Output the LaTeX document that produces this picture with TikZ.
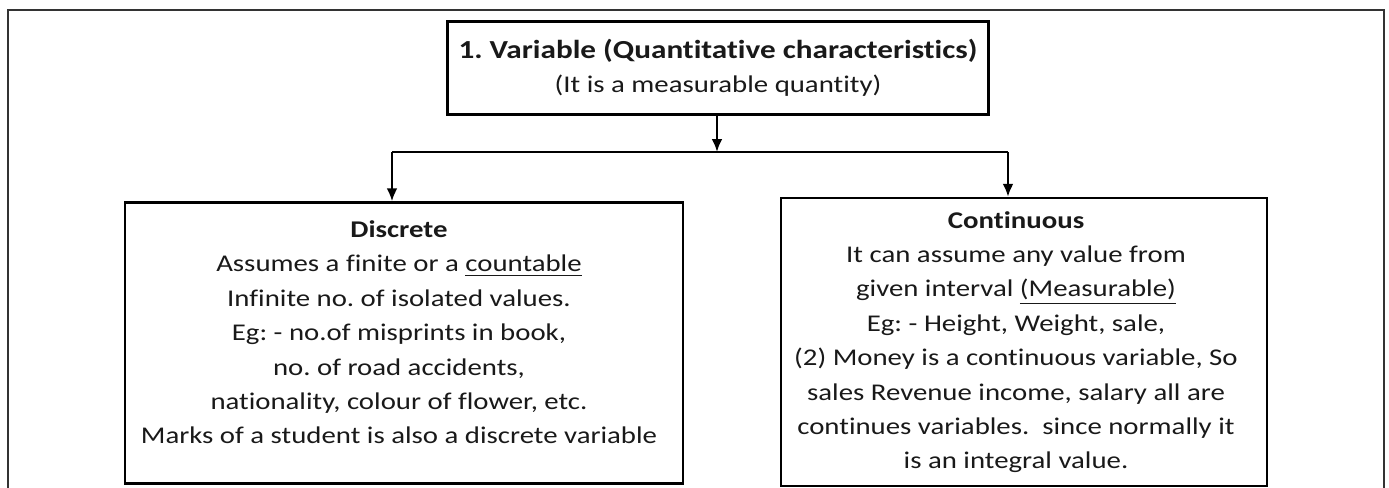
\documentclass[tikz,border=0pt]{standalone}
\usepackage{fontspec}
\setmainfont{Carlito}[FakeStretch=1.2,Ligatures=CommonOff]
\usetikzlibrary{positioning}
\usetikzlibrary{arrows.meta}
\frenchspacing

\begin{document}
\begin{tikzpicture}[x=0.5pt,y=-0.5pt,
	box/.style={draw,line width=1.2pt,inner sep=0pt},
	txt/.style={align=center,inner sep=0pt,text=black!90,font=\fontsize{12}{17.2}\selectfont},
	line/.style={line width=1.2pt},
	link/.style={line width=1.2pt,-{Latex[length=6.5pt,width=5.5pt]}}]
\def\u{0.5pt}
\useasboundingbox (0,0) rectangle (1389,488);

%frame
\draw[line width=1pt,black!80] (8,488) -- (8,10) -- (1384,10) -- (1384,488);

%boxes
\node[box,txt,minimum width=541*\u,minimum height=93*\u] (var) at (718,68)
	{{\fontsize{13}{17.2}\selectfont\bfseries 1. Variable (Quantitative characteristics)}\\(It is a measurable quantity)};

\node[box,minimum width=558*\u,minimum height=281*\u] (disc) at (404,343) {};
\node[txt,below=19*\u of disc.north,xshift=-5*\u] (disctxt) {\textbf{Discrete}\\
	Assumes a finite or a \underline{countable}\\
	Infinite no. of isolated values.\\
	Eg: - no.of misprints in book,\\
	no. of road accidents,\\
	nationality, colour of flower, etc.\\
	Marks of a student is also a discrete variable};

\node[box,minimum width=486*\u,minimum height=288*\u] (cont) at (1024,342) {};
\node[txt,below=14*\u of cont.north,xshift=-8*\u] (conttxt) {\textbf{Continuous}\\
	It can assume any value from\\
	given interval \underline{(Measurable)}\\
	Eg: - Height, Weight, sale,\\
	(2) Money is a continuous variable, So\\
	sales Revenue income, salary all are\\
	continues variables.~ since normally it\\
	is an integral value.};

%arrows
\coordinate (split) at (717,152);
\coordinate (lsplit) at (392,152);
\coordinate (rsplit) at (1008,152);
\draw[link] (var.south -| split) -- (split);
\draw[line] (lsplit) -- (rsplit);
\draw[link] (lsplit) -- (lsplit |- disc.north);
\draw[link] (rsplit) -- (rsplit |- cont.north);

\end{tikzpicture}
\end{document}
